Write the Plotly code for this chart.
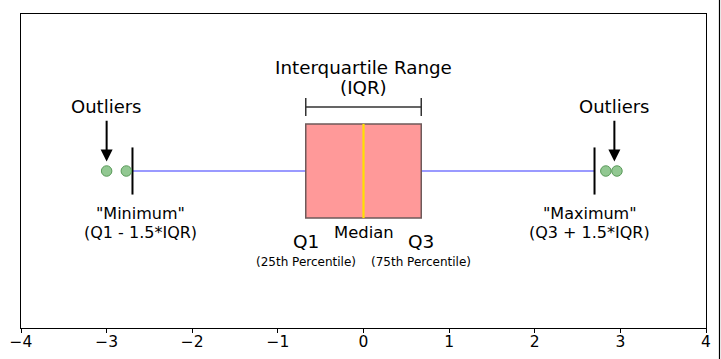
import plotly.graph_objects as go

# Box-plot statistics (standard normal)
q1 = -0.6745
median = 0.0
q3 = 0.6745
lower_fence = -2.698
upper_fence = 2.698
outliers_x = [-3.0, -2.77, 2.83, 2.96]
x_ticks = [-4, -3, -2, -1, 0, 1, 2, 3, 4]
x_tick_labels = ["\u22124", "\u22123", "\u22122", "\u22121", "0", "1", "2", "3", "4"]

FONT = "DejaVu Sans"
BOX_H = 0.3
CAP_H = 0.15

fig = go.Figure()

# whiskers
fig.add_trace(go.Scatter(x=[lower_fence, q1], y=[0, 0], mode="lines",
                         line=dict(color="#7878ff", width=1.6), hoverinfo="skip"))
fig.add_trace(go.Scatter(x=[q3, upper_fence], y=[0, 0], mode="lines",
                         line=dict(color="#7878ff", width=1.6), hoverinfo="skip"))
# caps
for fx in [lower_fence, upper_fence]:
    fig.add_trace(go.Scatter(x=[fx, fx], y=[-CAP_H, CAP_H], mode="lines",
                             line=dict(color="black", width=2), hoverinfo="skip"))
# outliers
fig.add_trace(go.Scatter(x=outliers_x, y=[0] * len(outliers_x), mode="markers",
                         marker=dict(size=10.5, color="#92c892",
                                     line=dict(color="#5a9a5a", width=1)),
                         hoverinfo="skip"))
# IQR bracket
fig.add_trace(go.Scatter(x=[q1, q1, q1, q3, q3, q3],
                         y=[0.465, 0.35, 0.408, 0.408, 0.465, 0.35],
                         mode="lines", line=dict(color="#333333", width=1.5),
                         hoverinfo="skip"))

# box and median
fig.add_shape(type="rect", x0=q1, x1=q3, y0=-BOX_H, y1=BOX_H, xref="x", yref="y",
              fillcolor="#ff9999", line=dict(color="#6e5a5a", width=1.5), layer="above")
fig.add_shape(type="line", x0=median, x1=median, y0=-BOX_H, y1=BOX_H, xref="x", yref="y",
              line=dict(color="#ffe000", width=2.2), layer="above")

# right image border
fig.add_shape(type="line", xref="paper", yref="paper", x0=1.0197, x1=1.0197,
              y0=-0.1, y1=1.05, line=dict(color="black", width=1.2))

def ann(x, y, text, size):
    fig.add_annotation(x=x, y=y, xref="x", yref="y", text=text, showarrow=False,
                       font=dict(family=FONT, size=size, color="black"))

ann(0, 0.662, "Interquartile Range", 18.3)
ann(0, 0.535, "(IQR)", 18.3)
ann(-3.0, 0.414, "Outliers", 18)
ann(2.93, 0.414, "Outliers", 18)
ann(-2.6, -0.268, "\"Minimum\"", 16)
ann(-2.6, -0.389, "(Q1 - 1.5*IQR)", 16)
ann(2.645, -0.268, "\"Maximum\"", 16)
ann(2.645, -0.389, "(Q3 + 1.5*IQR)", 16)
ann(q1, -0.452, "Q1", 18.5)
ann(q3, -0.452, "Q3", 18.5)
ann(median, -0.389, "Median", 16.4)
ann(q1, -0.58, "(25th Percentile)", 12)
ann(q3, -0.58, "(75th Percentile)", 12)

# arrows
for ox in [-3.0, 2.93]:
    fig.add_annotation(x=ox, y=0.06, ax=ox, ay=0.33, xref="x", yref="y", axref="x", ayref="y",
                       text="", showarrow=True, arrowhead=2, arrowsize=1.2,
                       arrowwidth=2, arrowcolor="black")

fig.update_layout(
    width=721, height=359,
    margin=dict(l=21, r=15, t=14, b=31, autoexpand=False),
    paper_bgcolor="white", plot_bgcolor="white",
    showlegend=False,
    xaxis=dict(range=[-4, 4], tickvals=x_ticks, ticktext=x_tick_labels,
               automargin=False, ticklabelstandoff=-5,
               showgrid=False, zeroline=False, showline=True, mirror=True,
               linecolor="black", linewidth=1.2, ticks="outside", ticklen=4,
               tickcolor="black", tickfont=dict(family=FONT, size=15.5, color="black")),
    yaxis=dict(range=[-1, 1], showticklabels=False, showgrid=False, zeroline=False,
               automargin=False,
               showline=True, mirror=True, linecolor="black", linewidth=1.2, ticks=""),
)

fig.write_html("out.html", config={"displayModeBar": False},
               post_script="document.body.style.margin='0';document.body.style.overflow='hidden';")
